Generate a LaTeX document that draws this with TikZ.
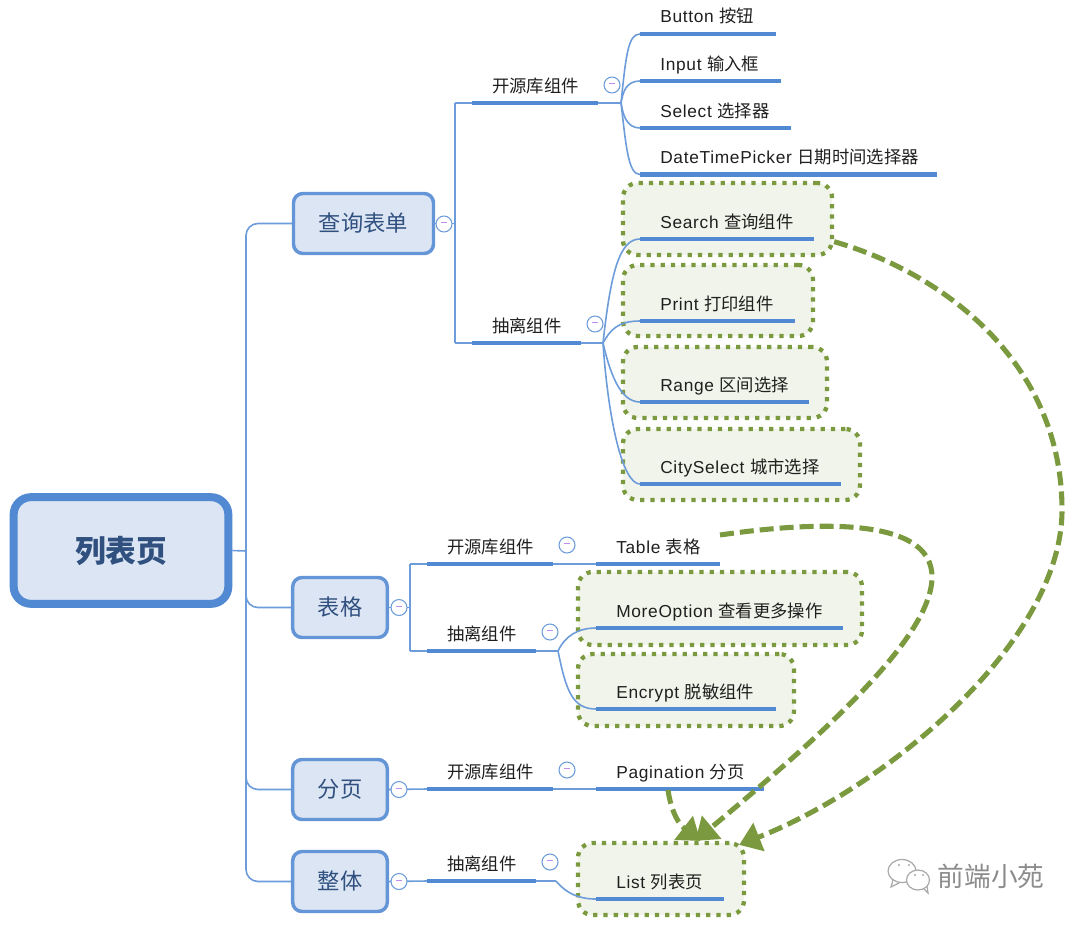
\documentclass[tikz,border=0pt]{standalone}
\usepackage{fontspec}
\setmainfont{Liberation Sans}[LetterSpace=4]
\newfontfamily\cjk{Noto Sans CJK SC}
\usetikzlibrary{calc,arrows.meta}
\definecolor{barblue}{HTML}{5289D3}
\definecolor{lineblue}{HTML}{6C9CD9}
\definecolor{paleblue}{HTML}{DCE5F3}
\definecolor{inkblue}{HTML}{30507F}
\definecolor{moss}{HTML}{7B9A3F}
\definecolor{palemoss}{HTML}{F1F4EA}
\definecolor{stamp}{HTML}{A8A8A8}
\definecolor{stampink}{HTML}{8C8C8C}

\tikzset{
  rootbox/.style={draw=barblue,line width=6pt,fill=paleblue,rounded corners=13pt,font=\cjk\bfseries\fontsize{23}{23}\selectfont,text=inkblue},
  subbox/.style={draw=barblue!90!white,line width=2.6pt,fill=paleblue,rounded corners=7pt,font=\cjk\fontsize{16.7}{16.7}\selectfont,text=inkblue},
  hlbox/.style={draw=moss,line width=3.2pt,dash pattern=on 3.2pt off 4.5pt,fill=palemoss,rounded corners=11pt},
  topicbar/.style={fill=barblue,inner sep=0pt,outer sep=0pt,minimum height=3.5pt,anchor=west},
  toptext/.style={font=\fontsize{13}{13}\selectfont,inner sep=0pt,anchor=base west,text=black!88},
  fold/.style={circle,draw=lineblue,fill=white,line width=0.8pt,minimum size=12pt,inner sep=0pt},
  link/.style={draw=lineblue,line width=1.2pt},
  jump/.style={draw=moss,line width=3.8pt,dash pattern=on 10.5pt off 4.5pt,-{Triangle[length=16pt,width=22pt]}}
}

% bar with its text on top: name, x1, x2, y, text
\newcommand{\topic}[5]{
  \node[topicbar,minimum width={(#3-#2)*0.75pt}] (#1) at (#2,#4) {};
  \node[toptext] (#1text) at (#2+20,#4-11) {#5};
}
% dotted frame: name, x1, x2, y1, y2
\newcommand{\frm}[5]{
  \node[hlbox,minimum width={(#3-#2)*0.75pt},minimum height={(#5-#4)*0.75pt}] (#1) at ({(#2+#3)/2},{(#4+#5)/2}) {};
}
\newcommand{\zh}[1]{{\cjk #1}}

\begin{document}
\begin{tikzpicture}[x=0.75pt,y=-0.75pt]
  \useasboundingbox (0,0) rectangle (1080,924);

  \node[rootbox,minimum width=161pt,minimum height=80pt] (root) at (121,550.5) {列表页};
  \node[subbox,minimum width=105pt,minimum height=45pt] (query) at (363.5,223.5) {查询表单};
  \node[subbox,minimum width=71pt,minimum height=45pt] (grid) at (340,607.5) {表格};
  \node[subbox,minimum width=71pt,minimum height=45pt] (pager) at (340,789.5) {分页};
  \node[subbox,minimum width=71pt,minimum height=45pt] (whole) at (340,881.5) {整体};

  \frm{searchbox}{623}{832}{183}{255}
  \frm{printbox}{623}{813}{265}{336}
  \frm{rangebox}{623}{827}{347}{418}
  \frm{citybox}{623}{860}{429}{500}
  \frm{morebox}{578}{862}{572}{645}
  \frm{encryptbox}{578}{794}{654}{726}
  \frm{listbox}{578}{744}{843}{915}

  % left bus
  \draw[link,rounded corners=9pt] (query.west) -- (246,223.5) -- (246,881.5) -- (whole.west);
  \draw[link] (root.east) -- (246,551);
  \draw[link,rounded corners=9pt] (246,585) -- (246,607.5) -- (grid.west);
  \draw[link,rounded corners=9pt] (246,765) -- (246,789.5) -- (pager.west);

  \topic{opena}{472}{598}{103}{\zh{开源库组件}}
  \topic{absa}{472}{581}{343}{\zh{抽离组件}}
  \topic{button}{640}{776}{34}{Button \zh{按钮}}
  \topic{input}{640}{781}{81}{Input \zh{输入框}}
  \topic{select}{640}{791}{128}{Select \zh{选择器}}
  \topic{picker}{640}{937}{174.5}{DateTimePicker \zh{日期时间选择器}}
  \topic{search}{640}{814}{239}{Search \zh{查询组件}}
  \topic{print}{640}{795}{321}{Print \zh{打印组件}}
  \topic{range}{640}{809}{402}{Range \zh{区间选择}}
  \topic{city}{640}{841}{484}{CitySelect \zh{城市选择}}
  \topic{openb}{427}{553}{564}{\zh{开源库组件}}
  \topic{absb}{427}{536}{651}{\zh{抽离组件}}
  \topic{table}{596}{720}{564}{Table \zh{表格}}
  \topic{more}{596}{843}{628}{MoreOption \zh{查看更多操作}}
  \topic{encrypt}{596}{776}{709}{Encrypt \zh{脱敏组件}}
  \topic{openc}{427}{553}{789}{\zh{开源库组件}}
  \topic{pagination}{596}{764}{789}{Pagination \zh{分页}}
  \topic{absc}{427}{536}{881}{\zh{抽离组件}}
  \topic{list}{596}{724}{899}{List \zh{列表页}}

  \draw[link] (query.east) -- (455,223.5) (455,103) -- (455,343);
  \draw[link] (opena.west) -- (455,103) (absa.west) -- (455,343);
  \draw[link] (grid.east) -- (410,607.5) (410,564) -- (410,651);
  \draw[link] (openb.west) -- (410,564) (absb.west) -- (410,651);
  \draw[link] (pager.east) -- (openc.west);
  \draw[link] (whole.east) -- (absc.west);
  \draw[link] (openb.east) -- (table.west);
  \draw[link] (openc.east) -- (pagination.west);

  % fans
  \coordinate (huba) at (621,103);
  \coordinate (hubb) at (603,343);
  \coordinate (hubc) at (558,651);
  \coordinate (hubd) at (556,881);
  \draw[link] (opena.east) -- (huba);
  \draw[link] (absa.east) -- (hubb);
  \draw[link] (absb.east) -- (hubc);
  \draw[link] (absc.east) -- (hubd);
  \draw[link] (huba) .. controls (626,55) and (628,34) .. (button.west);
  \draw[link] (huba) .. controls (623,92) and (626,81) .. (input.west);
  \draw[link] (huba) .. controls (623,114) and (626,128) .. (select.west);
  \draw[link] (huba) .. controls (626,145) and (628,174.5) .. (picker.west);
  \draw[link] (hubb) .. controls (611,270) and (620,239) .. (search.west);
  \draw[link] (hubb) .. controls (610,330) and (618,321) .. (print.west);
  \draw[link] (hubb) .. controls (610,373) and (620,402) .. (range.west);
  \draw[link] (hubb) .. controls (608,417) and (622,484) .. (city.west);
  \draw[link] (hubc) .. controls (565,636) and (578,628) .. (more.west);
  \draw[link] (hubc) .. controls (566,690) and (572,709) .. (encrypt.west);
  \draw[link] (hubd) .. controls (566,893) and (578,899) .. (list.west);

  % fold marks
  \foreach \nm/\px/\py in {fa/444/224,fb/399/607.5,fc/399/789.5,fd/399/881.5,fe/612/85,ff/595/324,fg/567/545,fh/550/632,fi/567/770,fj/550/862}
    \node[fold] (\nm) at (\px,\py) {\textcolor{lineblue!60!magenta!70!white}{\rule[1.6pt]{5pt}{0.7pt}}};

  % reuse arrows
  \draw[jump] (searchbox.-12) .. controls (940,272) and (1062,360) .. (1062,510)
     .. controls (1062,640) and (890,785) .. ($(listbox.north east)+(-7,4)$);
  \draw[jump] ($(table.east)+(0,-29)$) .. controls (810,522) and (932,515) .. (932,577)
     .. controls (932,640) and (810,745) .. (listbox.48);
  \draw[jump] ($(pagination.west)+(72,1)$) .. controls (670,805) and (676,822) .. (listbox.44);

  % stamp
  \draw[stamp,line width=0.9pt,fill=white] (902,871) ellipse [x radius=14,y radius=11.5];
  \draw[stamp,line width=0.9pt] (893,880) -- (891,887) -- (899,883);
  \draw[stamp,line width=0.9pt,fill=white] (918,880) ellipse [x radius=11.5,y radius=10];
  \draw[stamp,line width=0.9pt] (924,889) -- (928,893) -- (927,886);
  \foreach \ex/\ey in {899/865,909/865,915/875,923/875}
    \fill[stamp] (\ex,\ey) circle [radius=1.2];
  \node[text=stampink,font=\cjk\fontsize{20}{20}\selectfont,inner sep=0pt] (stampname) at (991,876) {前端小苑};
\end{tikzpicture}
\end{document}
